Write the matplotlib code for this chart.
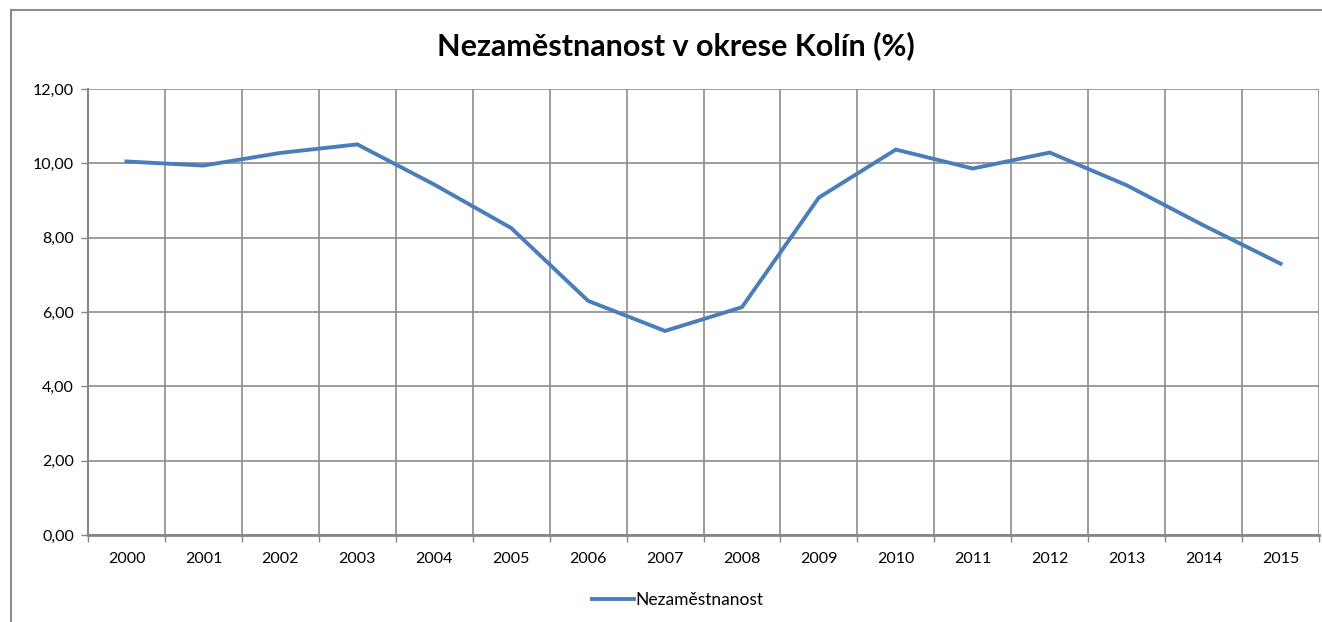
import matplotlib.pyplot as plt
from matplotlib.lines import Line2D

years = ["2000", "2001", "2002", "2003", "2004", "2005", "2006", "2007",
         "2008", "2009", "2010", "2011", "2012", "2013", "2014", "2015"]
nezamestnanost = [10.05, 9.94, 10.28, 10.51, 9.43, 8.26, 6.30, 5.49,
                  6.13, 9.08, 10.37, 9.86, 10.29, 9.41, 8.33, 7.30]
y_ticks = [0, 2, 4, 6, 8, 10, 12]

W, H = 1322, 622
fig = plt.figure(figsize=(W / 100, H / 100), dpi=100)
plt.rcParams['font.family'] = ['Lato', 'DejaVu Sans']

# outer chart frame: only left and top edges are inside the image
frame_c = "#8c8c8c"
fig.add_artist(Line2D([11 / W, 11 / W], [0, 1 - 10 / H], transform=fig.transFigure,
                      color=frame_c, linewidth=1.5))
fig.add_artist(Line2D([11 / W, 1], [1 - 10 / H, 1 - 10 / H], transform=fig.transFigure,
                      color=frame_c, linewidth=1.5))

ax = fig.add_axes([88 / W, 1 - 535 / H, (1319 - 88) / W, (535 - 89) / H])
x = list(range(len(years)))
ax.plot(x, nezamestnanost, color="#4a7ebb", linewidth=2.8,
        solid_joinstyle="miter", zorder=3)

ax.set_xlim(-0.5, len(years) - 0.5)
ax.set_ylim(0, 12)
ax.set_yticks(y_ticks)
ax.set_yticklabels([("%.2f" % v).replace(".", ",") for v in y_ticks])
ax.set_xticks(x)
ax.set_xticklabels(years)
ax.set_xticks([i - 0.5 for i in range(len(years) + 1)], minor=True)

ax.tick_params(axis="x", which="major", length=0, pad=12, labelsize=11.5)
ax.tick_params(axis="x", which="minor", length=5, color="#868686", width=1)
ax.tick_params(axis="y", length=5, color="#868686", width=1, pad=5, labelsize=11.5)

ax.grid(True, axis="y", color="#8c8c8c", linewidth=1.2)
ax.grid(True, axis="x", which="minor", color="#8c8c8c", linewidth=1.2)
ax.set_axisbelow(True)
for s in ["top", "right"]:
    ax.spines[s].set_visible(False)
ax.spines["left"].set_color("#868686")
ax.spines["bottom"].set_color("#868686")
ax.spines["left"].set_linewidth(1.5)
ax.spines["bottom"].set_linewidth(2)

fig.text(676 / W, 1 - 46 / H, "Nezaměstnanost v okrese Kolín (%)",
         ha="center", va="center", fontsize=22, fontweight="bold")

handle = Line2D([], [], color="#4a7ebb", linewidth=2.8)
fig.legend([handle], ["Nezaměstnanost"], loc="center",
           bbox_to_anchor=(678 / W, 1 - 600 / H), frameon=False,
           fontsize=12.5, handlelength=2.4, handletextpad=0.1)

fig.savefig("out.png", dpi=100)
